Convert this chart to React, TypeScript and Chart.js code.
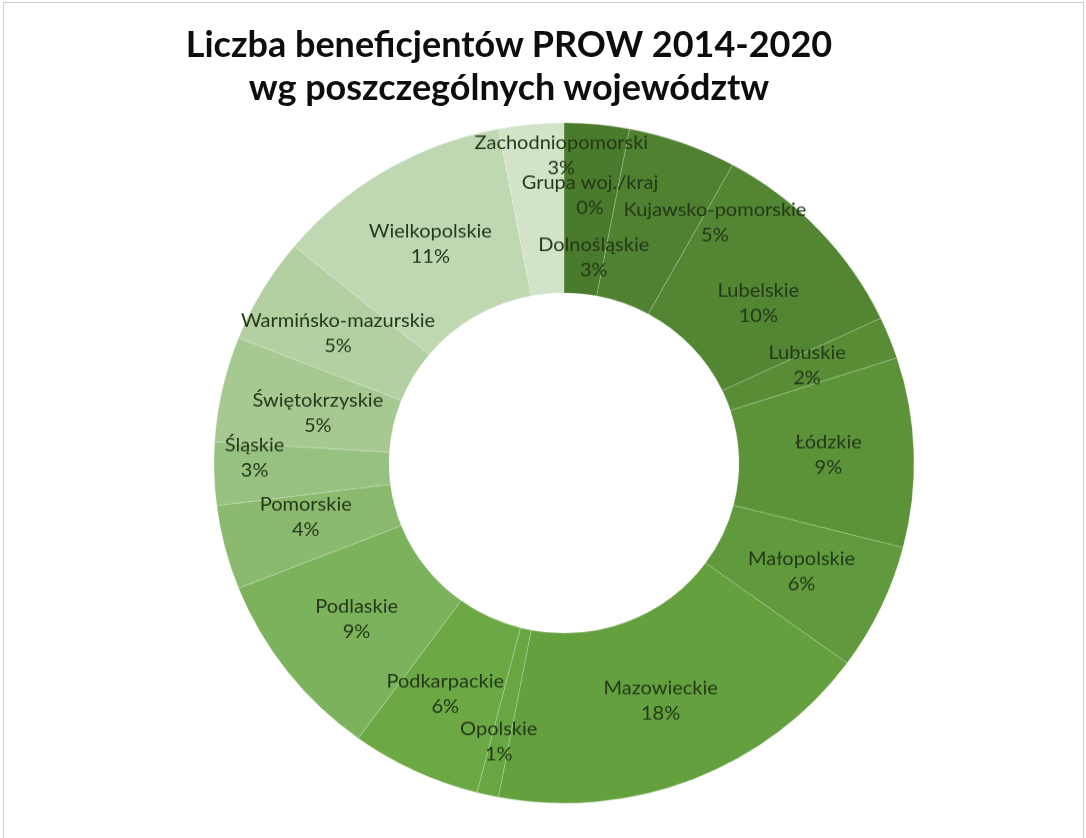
import React, { useEffect, useRef } from 'react';
import { Chart, registerables } from 'chart.js';

Chart.register(...registerables);

const categories = [
  'Grupa woj./kraj',
  'Dolnośląskie',
  'Kujawsko-pomorskie',
  'Lubelskie',
  'Lubuskie',
  'Łódzkie',
  'Małopolskie',
  'Mazowieckie',
  'Opolskie',
  'Podkarpackie',
  'Podlaskie',
  'Pomorskie',
  'Śląskie',
  'Świętokrzyskie',
  'Warmińsko-mazurskie',
  'Wielkopolskie',
  'Zachodniopomorski',
];
const shares = [0, 3, 5, 10, 2, 9, 6, 18, 1, 6, 9, 4, 3, 5, 5, 11, 3];
const titleLines = ['Liczba beneficjentów PROW 2014-2020', 'wg poszczególnych województw'];

const sliceColors = [
  '#436b29',
  '#4a7a2b',
  '#4f8130',
  '#538633',
  '#588d36',
  '#5c9339',
  '#609a3c',
  '#64a03e',
  '#68a642',
  '#6ca944',
  '#7cb25b',
  '#8bba6f',
  '#97c181',
  '#a5c990',
  '#b2d0a1',
  '#c0d8b2',
  '#d3e3c8',
];

// pixel nudges of the data labels away from the ring's mid point (as Excel moved them)
const labelNudges: [number, number][] = [
  [26, -13],
  [5, 50],
  [62, 0],
  [3, 15],
  [-1, -4],
  [2, 0],
  [0, 0],
  [0, 0],
  [-8, 30],
  [-7, 0],
  [0, 0],
  [-4, -10],
  [-47, -14],
  [10, 6],
  [0, 0],
  [0, 0],
  [22, -55],
];

const ringLabels = {
  id: 'ringLabels',
  afterDatasetsDraw(chart: any) {
    const ctx = chart.ctx as CanvasRenderingContext2D;
    const meta = chart.getDatasetMeta(0);
    const total = shares.reduce((a, b) => a + b, 0);
    ctx.save();
    ctx.font = '20px Lato';
    ctx.fillStyle = '#24381a';
    ctx.textAlign = 'center';
    ctx.textBaseline = 'middle';
    meta.data.forEach((arc: any, i: number) => {
      const p = arc.getProps(['x', 'y', 'startAngle', 'endAngle', 'innerRadius', 'outerRadius'], true);
      const mid = (p.startAngle + p.endAngle) / 2;
      const r = (p.innerRadius + p.outerRadius) / 2;
      const [dx, dy] = labelNudges[i];
      const cx = p.x + Math.cos(mid) * r + dx;
      const cy = p.y + Math.sin(mid) * r + dy;
      const pct = Math.round((shares[i] / total) * 100) + '%';
      ctx.fillText(categories[i], cx, cy - 13);
      ctx.fillText(pct, cx, cy + 13);
    });
    ctx.restore();
  },
};

export default function App() {
  const ref = useRef<HTMLCanvasElement>(null);
  useEffect(() => {
    const chart = new Chart(ref.current as HTMLCanvasElement, {
      type: 'doughnut',
      data: {
        labels: categories,
        datasets: [
          {
            data: shares,
            backgroundColor: sliceColors,
            borderColor: 'rgba(255,255,255,0.18)',
            borderWidth: 1,
          },
        ],
      },
      options: {
        responsive: false,
        animation: false,
        radius: 350,
        cutout: '50%',
        events: [],
        layout: { padding: { left: 42, top: 88, right: 0, bottom: 0 } },
        plugins: {
          legend: { display: false },
          tooltip: { enabled: false },
          title: { display: false },
        },
      } as any,
      plugins: [ringLabels],
    });
    return () => chart.destroy();
  }, []);

  return (
    <div
      style={{
        position: 'absolute',
        left: 0,
        top: 0,
        width: 1086,
        height: 838,
        background: '#ffffff',
        overflow: 'hidden',
      }}
    >
      <div
        style={{
          position: 'absolute',
          left: 3,
          top: 2,
          width: 1081,
          height: 860,
          border: '1px solid #cdcdcd',
          boxSizing: 'border-box',
        }}
      />
      <canvas
        ref={ref}
        width={1086}
        height={838}
        style={{
          position: 'absolute',
          left: 0,
          top: 0,
          transform: 'scaleY(0.972)',
          transformOrigin: '564px 463px',
        }}
      />
      <div
        style={{
          position: 'absolute',
          left: 0,
          top: 22,
          width: 1018,
          textAlign: 'center',
          fontFamily: 'Lato',
          fontWeight: 700,
          fontSize: 36,
          lineHeight: '43px',
          color: '#0d0d0d',
        }}
      >
        {titleLines.map((l) => (
          <div key={l}>{l}</div>
        ))}
      </div>
    </div>
  );
}
